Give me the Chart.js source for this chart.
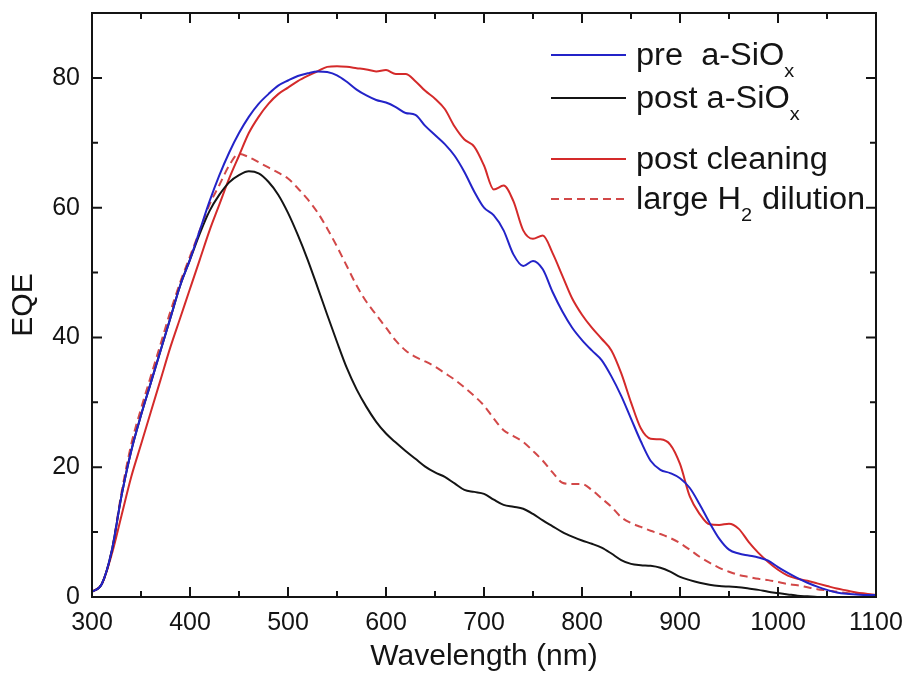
<!DOCTYPE html>
<html>
<head>
<meta charset="utf-8">
<title>EQE</title>
<script src="https://cdn.jsdelivr.net/npm/chart.js@4.4.1/dist/chart.umd.min.js"></script>
<style>
  html, body { margin: 0; padding: 0; background: #fff; }
</style>
</head>
<body>
<canvas id="eqeChart" width="911" height="677"></canvas>
<script>
// 数据
const wavelength = [
  300, 310, 320, 330, 340, 350, 360, 370, 380, 390,
  400, 410, 420, 430, 440, 450, 460, 470, 480, 490,
  500, 510, 520, 530, 540, 550, 560, 570, 580, 590,
  600, 610, 620, 630, 640, 650, 660, 670, 680, 690,
  700, 710, 720, 730, 740, 750, 760, 770, 780, 790,
  800, 810, 820, 830, 840, 850, 860, 870, 880, 890,
  900, 910, 920, 930, 940, 950, 960, 970, 980, 990,
  1000, 1010, 1020, 1030, 1040, 1050, 1060, 1070, 1080, 1090,
  1100
];
const preSiOx = [
  0.8, 2.0, 7.0, 15.5, 22.5, 28.0, 33.0, 38.0, 43.0, 48.0,
  52.0, 56.5, 61.0, 65.0, 68.5, 71.5, 74.0, 76.0, 77.5, 78.8,
  79.6, 80.3, 80.7, 81.0, 80.9, 80.4, 79.4, 78.2, 77.3, 76.6,
  76.2, 75.5, 74.6, 74.3, 72.6, 71.2, 69.8, 68.0, 65.5, 62.5,
  60.0, 58.8, 56.5, 52.8, 51.0, 51.8, 50.5, 47.0, 44.0, 41.5,
  39.6, 38.0, 36.5, 34.0, 31.0, 27.5, 24.0, 21.0, 19.6, 19.1,
  18.3, 16.8, 14.3, 11.5, 9.0, 7.3, 6.7, 6.4, 6.1, 5.6,
  4.6, 3.7, 2.9, 2.2, 1.6, 1.1, 0.7, 0.5, 0.4, 0.3,
  0.3
];
const postSiOx = [
  0.8, 2.0, 7.0, 15.5, 22.5, 28.0, 33.0, 38.0, 43.0, 48.0,
  52.0, 56.0, 59.5, 62.0, 63.9, 65.0, 65.6, 65.3, 64.0, 62.0,
  59.2, 55.8, 52.0, 47.8, 43.5, 39.3, 35.3, 32.0, 29.3, 27.0,
  25.2, 23.8, 22.5, 21.3, 20.1, 19.2, 18.5, 17.5, 16.5, 16.2,
  15.9, 15.0, 14.2, 13.9, 13.6, 12.8, 11.8, 10.9, 10.0, 9.3,
  8.7, 8.2, 7.6, 6.7, 5.7, 5.1, 4.9, 4.8, 4.5, 3.9,
  3.1, 2.6, 2.2, 1.9, 1.7, 1.6, 1.5, 1.3, 1.1, 0.8,
  0.6, 0.4, 0.2, 0.1, 0.0, 0.0, 0.0, 0.0, 0.0, 0.0,
  0.0
];
const postCleaning = [
  0.8, 2.0, 6.5, 12.5, 18.5, 23.5, 28.5, 33.5, 38.5, 43.0,
  47.5, 52.0, 56.5, 60.5, 64.5, 68.0, 71.5, 74.0, 76.0, 77.5,
  78.5, 79.5, 80.3, 81.0, 81.7, 81.8, 81.7, 81.5, 81.3, 81.0,
  81.2, 80.6, 80.6, 79.5, 78.0, 76.8, 75.2, 72.5, 70.5, 69.4,
  66.5, 62.8, 63.4, 61.0, 56.5, 55.2, 55.7, 53.0, 49.5, 46.0,
  43.5, 41.5, 39.8, 38.0, 34.5, 30.0, 26.0, 24.4, 24.3, 23.5,
  20.5, 15.5, 12.8, 11.2, 11.1, 11.3, 10.5, 8.5, 6.8, 5.4,
  4.2, 3.3, 2.8, 2.5, 2.1, 1.7, 1.3, 1.0, 0.7, 0.5,
  0.3
];
const largeH2 = [
  0.8, 2.0, 7.0, 16.0, 23.5, 29.0, 34.0, 39.0, 44.0, 48.5,
  52.5, 56.5, 60.5, 63.5, 66.5, 68.3, 67.8, 67.0, 66.2, 65.4,
  64.5, 63.0, 61.3, 59.3, 56.8, 54.0, 51.0, 48.0, 45.5, 43.5,
  41.5, 39.5, 38.0, 37.0, 36.3, 35.5, 34.5, 33.5, 32.3, 31.0,
  29.5, 27.5, 25.7, 24.8, 23.9, 22.5, 21.0, 19.2, 17.6, 17.4,
  17.4, 16.5, 15.2, 13.9, 12.3, 11.4, 10.8, 10.2, 9.7, 9.1,
  8.3, 7.3, 6.2, 5.3, 4.5, 3.9, 3.4, 3.1, 2.8, 2.6,
  2.3, 2.0, 1.8, 1.5, 1.2, 1.0, 0.8, 0.6, 0.5, 0.4,
  0.3
];

// 坐标轴刻度
const xTicks = [300, 400, 500, 600, 700, 800, 900, 1000, 1100];
const xMinorTicks = [350, 450, 550, 650, 750, 850, 950, 1050];
const yTicks = [0, 20, 40, 60, 80];
const yMinorTicks = [10, 30, 50, 70];

const FONT = '"Liberation Sans", Arial, sans-serif';
const INK = '#141414';

const pts = arr => wavelength.map((w, i) => ({ x: w, y: arr[i] }));

// 图例 (with subscripts)
const legendItems = [
  { parts: [['pre  a-SiO', 0], ['x', 1]], color: '#2323c8', dash: [] },
  { parts: [['post a-SiO', 0], ['x', 1]], color: INK, dash: [] },
  { parts: [['post cleaning', 0]], color: '#d42a2a', dash: [] },
  { parts: [['large H', 0], ['2', 1], [' dilution', 0]], color: '#d24848', dash: [8, 5] }
];
const legendRowsY = [55, 98, 159, 199];

const legendPlugin = {
  id: 'subLegend',
  afterDraw(chart) {
    const { ctx } = chart;
    const sx = 1.05;
    ctx.save();
    legendItems.forEach((item, i) => {
      const y = legendRowsY[i];
      ctx.strokeStyle = item.color;
      ctx.lineWidth = 2;
      ctx.setLineDash(item.dash);
      ctx.beginPath();
      ctx.moveTo(551, y);
      ctx.lineTo(626, y);
      ctx.stroke();
      ctx.setLineDash([]);
      let tx = 636;
      ctx.fillStyle = INK;
      ctx.textBaseline = 'alphabetic';
      item.parts.forEach(([txt, sub]) => {
        ctx.font = (sub ? '19px ' : '31px ') + FONT;
        ctx.save();
        ctx.translate(tx, y + (sub ? 22 : 10));
        ctx.scale(sx, 1);
        ctx.fillText(txt, 0, 0);
        ctx.restore();
        tx += ctx.measureText(txt).width * sx + (sub ? 1 : 0);
      });
    });
    ctx.restore();
  }
};

// 边框 + 内向刻度
const framePlugin = {
  id: 'frame',
  afterDatasetsDraw(chart) {
    const { ctx, chartArea: a, scales: { x, y } } = chart;
    ctx.save();
    ctx.strokeStyle = INK;
    ctx.lineWidth = 2;
    ctx.strokeRect(a.left, a.top, a.right - a.left, a.bottom - a.top);
    ctx.beginPath();
    const xt = (v, len) => {
      const p = x.getPixelForValue(v);
      ctx.moveTo(p, a.bottom); ctx.lineTo(p, a.bottom - len);
      ctx.moveTo(p, a.top); ctx.lineTo(p, a.top + len);
    };
    const yt = (v, len) => {
      const p = y.getPixelForValue(v);
      ctx.moveTo(a.left, p); ctx.lineTo(a.left + len, p);
      ctx.moveTo(a.right, p); ctx.lineTo(a.right - len, p);
    };
    xTicks.forEach(v => xt(v, 10));
    xMinorTicks.forEach(v => xt(v, 6));
    yTicks.forEach(v => yt(v, 10));
    yMinorTicks.forEach(v => yt(v, 6));
    ctx.stroke();
    ctx.restore();
  }
};

// 不要标签溢出的额外边距
const noPad = s => { s.paddingTop = 0; s.paddingBottom = 0; s.paddingLeft = 0; s.paddingRight = 0; };

new Chart(document.getElementById('eqeChart'), {
  type: 'line',
  data: {
    datasets: [
      { label: 'pre  a-SiOx', data: pts(preSiOx), borderColor: '#2323c8' },
      { label: 'post a-SiOx', data: pts(postSiOx), borderColor: INK },
      { label: 'post cleaning', data: pts(postCleaning), borderColor: '#d42a2a' },
      { label: 'large H2 dilution', data: pts(largeH2), borderColor: '#d24848', borderDash: [8, 5] }
    ]
  },
  options: {
    responsive: false,
    animation: false,
    layout: { padding: { top: 13, right: 35, left: 0, bottom: 0 } },
    elements: {
      point: { radius: 0 },
      line: { borderWidth: 2, cubicInterpolationMode: 'monotone', fill: false }
    },
    plugins: { legend: { display: false }, tooltip: { enabled: false } },
    scales: {
      x: {
        type: 'linear', min: 300, max: 1100,
        grid: { display: false, drawTicks: false },
        border: { display: false },
        ticks: { padding: 11, color: INK, autoSkip: false, maxRotation: 0, font: { family: FONT, size: 25 }, callback: v => String(v) },
        afterBuildTicks: s => { s.ticks = xTicks.map(v => ({ value: v })); },
        afterFit: s => { s.height = 80; noPad(s); },
        title: { display: true, text: 'Wavelength (nm)', color: INK, font: { family: FONT, size: 30 }, padding: { top: 0, bottom: 2 } }
      },
      y: {
        min: 0, max: 90,
        grid: { display: false, drawTicks: false },
        border: { display: false },
        ticks: { padding: 12, color: INK, font: { family: FONT, size: 25 }, callback: v => String(v) },
        afterBuildTicks: s => { s.ticks = yTicks.map(v => ({ value: v })); },
        afterFit: s => { s.width = 92; noPad(s); },
        title: { display: true, text: 'EQE', color: INK, font: { family: FONT, size: 30 }, padding: { top: 6, bottom: 0 } }
      }
    }
  },
  plugins: [framePlugin, legendPlugin]
});
</script>
</body>
</html>
